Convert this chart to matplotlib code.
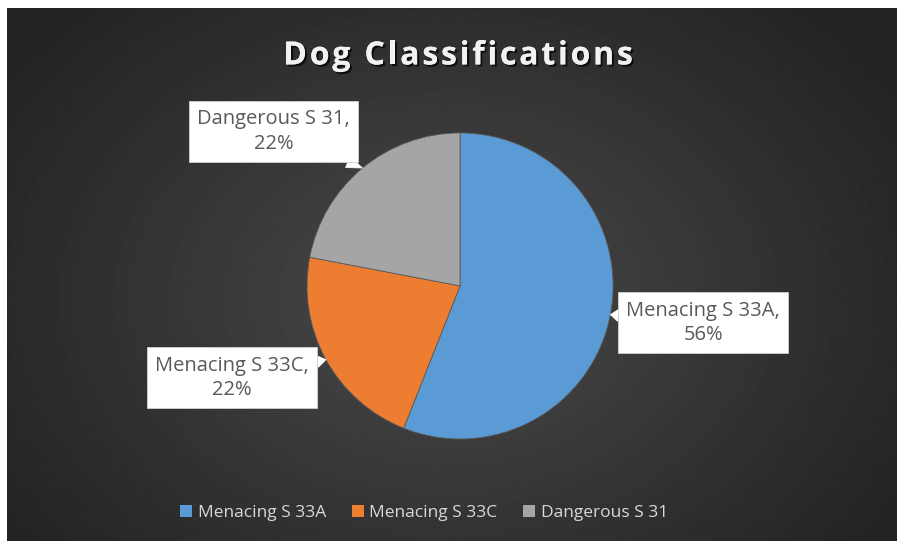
import numpy as np
import matplotlib.pyplot as plt
import matplotlib.patheffects as pe

labels = ["Menacing S 33A", "Menacing S 33C", "Dangerous S 31"]
values = [56, 22, 22]
colors = ["#5B9BD5", "#ED7D31", "#A5A5A5"]
title = "Dog Classifications"

W, H = 897, 541
fig = plt.figure(figsize=(8.971, 5.411), dpi=100)
fig.patch.set_facecolor("#2a2a2a")

# dark radial background
bg = fig.add_axes([0, 0, 1, 1])
yy, xx = np.mgrid[0:541, 0:897]
d = np.sqrt(((xx - 445) / 560) ** 2 + ((yy - 300) / 420) ** 2)
shade = np.clip(0.29 - 0.16 * d, 0.14, 0.3)
bg.imshow(shade, cmap="gray", vmin=0, vmax=1, aspect="auto", interpolation="bilinear",
          extent=(0, 1, 0, 1))
bg.set_xlim(0, 1)
bg.set_ylim(0, 1)
bg.axis("off")
# white margin top and left
fig.add_artist(plt.Rectangle((0, 0), 7 / W, 1, fc="white", ec="none", transform=fig.transFigure))
fig.add_artist(plt.Rectangle((0, 1 - 8 / H), 1, 8 / H, fc="white", ec="none", transform=fig.transFigure))

# title with extra letter spacing
fig.canvas.draw()
rend = fig.canvas.get_renderer()
tkw = dict(fontsize=23, fontweight="bold", color="#f2f2f2", family="Open Sans", va="center")
shadow = [pe.withSimplePatchShadow(offset=(1.5, -1.5), shadow_rgbFace="black", alpha=0.7), pe.Normal()]
track = 2.8
probe = fig.text(0, 0, title, **tkw)
total = probe.get_window_extent(rend).width + track * (len(title) - 1)
probe.remove()
x0 = 458 - total / 2
for i, ch in enumerate(title):
    if i:
        p = fig.text(0, 0, title[:i] + "|", **tkw)
        q = fig.text(0, 0, "|", **tkw)
        off = p.get_window_extent(rend).width - q.get_window_extent(rend).width
        p.remove()
        q.remove()
    else:
        off = 0
    fig.text((x0 + off + i * track) / W, 1 - 56 / H, ch, ha="left", path_effects=shadow, **tkw)

r = 153
cx, cy = 460, 286
ax = fig.add_axes([(cx - r) / W, (H - cy - r) / H, 2 * r / W, 2 * r / H])
wedges, _ = ax.pie(values, colors=colors, startangle=90, counterclock=False,
                   wedgeprops=dict(linewidth=0.6, edgecolor="#5a5a5a"))
ax.set_xlim(-1, 1)
ax.set_ylim(-1, 1)

# label boxes (data coords relative to pie radius)
label_pos = [(1.59, -0.24), (-1.49, -0.60), (-1.22, 1.01)]
for w, lab, v, pos in zip(wedges, labels, values, label_pos):
    ang = np.deg2rad((w.theta1 + w.theta2) / 2)
    tip = (np.cos(ang), np.sin(ang))
    ax.annotate(f"{lab},\n{v}%", xy=tip, xytext=pos, ha="center", va="center",
                fontsize=14.5, color="#595959", family="Open Sans", linespacing=1.3,
                bbox=dict(boxstyle="square,pad=0.4", fc="white", ec="#d0d0d0", lw=0.6),
                arrowprops=dict(arrowstyle="wedge,tail_width=0.6", fc="white", ec="white",
                                lw=0.5, shrinkA=0, shrinkB=0),
                annotation_clip=False)

handles = [plt.Rectangle((0, 0), 1, 1, fc=c, ec="none") for c in colors]
fig.legend(handles, labels, loc="center", bbox_to_anchor=(424 / W, 1 - 513 / H), ncol=3,
           frameon=False, labelcolor="#d9d9d9", handlelength=0.7,
           handleheight=0.7, handletextpad=0.3, columnspacing=1.5,
           prop=dict(family="Open Sans", size=12.5))

fig.savefig("out.png", dpi=100)
